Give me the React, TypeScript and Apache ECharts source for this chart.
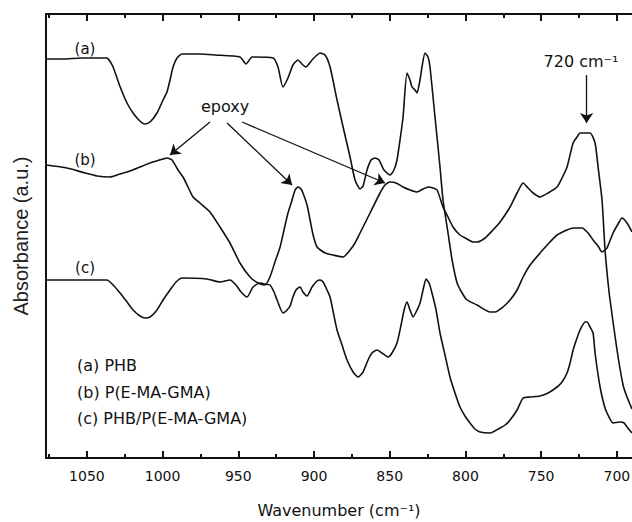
import React, { useEffect, useRef } from "react";
import * as echarts from "echarts";

// Curve (a) PHB
const waveA = [1077,1066,1053,1037,1033,1028,1023.5,1019.5,1015,1011.6,1008.3,1003.7,999.7,997.1,995.1,993.1,990.5,987.2,975.3,965.4,948.9,944.9,940.9,927.1,923.8,920.5,917.2,913.9,910.6,907.3,905.3,901.3,896,892.7,889.4,884.8,880.8,876.2,872.9,869.6,867.6,865,862.3,859.7,857.1,853.8,849.8,847.2,845.2,843.2,841.2,838.6,836.6,835.3,833.3,832,830,828.7,826.7,824.7,823.4,820.1,816.8,814.8,811.5,808.8,805.5,802.2,798.9,792.3,783.7,780.4,775.2,770.5,765.9,761.9,757.3,750.7,745.4,739.5,732.9,728.9,723,719,715.7,712.4,709.8,707.8,706.5,702.5,699.2,696.6,693.3,690];
const absA = [3.99,3.99,4.00,4.00,3.92,3.71,3.55,3.45,3.37,3.34,3.36,3.45,3.58,3.66,3.78,3.91,4.00,4.04,4.04,4.03,4.01,3.94,4.01,4.00,3.91,3.71,3.80,3.93,3.98,3.93,3.91,3.98,4.05,4.03,3.91,3.58,3.31,3.01,2.78,2.69,2.72,2.88,2.98,3.00,2.98,2.88,2.83,2.88,2.98,3.18,3.41,3.85,3.78,3.71,3.68,3.65,3.78,3.91,4.05,4.01,3.91,3.41,2.91,2.58,2.25,1.98,1.75,1.65,1.58,1.53,1.46,1.46,1.51,1.58,1.68,1.81,1.93,2.05,2.14,2.23,2.28,2.30,2.30,2.25,2.18,2.12,2.06,2.08,2.10,2.25,2.34,2.40,2.35,2.26];

// Curve (b) P(E-MA-GMA)
const waveB = [1077,1063.1,1051.2,1043.3,1034.7,1030.1,1021.5,1014.9,1008.3,999.7,997.1,993.8,989.8,986.5,983.2,979.9,975.3,968.7,962.1,955.5,948.9,942.3,937,932.4,929.1,925.8,922.4,919.8,917.2,914.5,912.5,910.6,908.6,907.3,904.6,902.6,900.6,898,892.7,887.4,880.8,876.2,872.9,869.6,863,856.4,853.1,849.8,845.8,841.2,836.6,832,828,824.7,821.4,818.7,814.8,811.5,808.2,803.6,798.9,795,792.3,787,781.8,777.1,770.5,765.9,761.9,758.6,755.3,750.7,745.4,739.5,736.2,732.9,728.9,726.3,724.3,717.7,714.4,712.4,709.8,707.8,705.8,704.5,699.9,695.9,693.3,690];
const absB = [2.93,2.90,2.85,2.82,2.81,2.83,2.87,2.91,2.95,2.99,3.00,2.98,2.88,2.81,2.71,2.61,2.55,2.46,2.31,2.15,1.95,1.81,1.75,1.73,1.81,1.96,2.11,2.28,2.45,2.58,2.68,2.71,2.69,2.65,2.53,2.38,2.23,2.11,2.05,2.03,2.01,2.08,2.15,2.25,2.45,2.65,2.73,2.76,2.75,2.71,2.68,2.66,2.69,2.71,2.70,2.68,2.51,2.41,2.31,2.23,2.19,2.16,2.16,2.20,2.28,2.36,2.51,2.65,2.75,2.70,2.65,2.61,2.65,2.71,2.80,2.91,3.15,3.21,3.25,3.25,3.15,2.91,2.58,2.08,1.75,1.58,1.08,0.73,0.61,0.49];

// Curve (c) PHB/P(E-MA-GMA)
const waveC = [1077,1036.7,1032.7,1028.1,1023.5,1019.5,1014.9,1011.6,1008.3,1003.7,999.7,995.1,991.1,987.2,970.7,962.1,955.5,951.5,948.2,944.2,940.3,935.7,932.4,929.1,926.4,924.4,920.5,917.8,915.8,913.9,911.9,909.2,907.3,904.6,901.3,898,896,894,891.4,889.4,884.8,881.5,878.2,874.2,870.9,867.6,864.3,861.7,858.4,855.1,851.1,848.5,845.2,842.5,840.5,838.6,836.6,834.6,832.6,830,828,826,824,822.1,819.4,816.8,813.5,810.2,806.9,803.6,800.3,797,793.7,790.3,783.7,777.1,773.8,770.5,765.9,761.9,757.3,750.7,745.4,739.5,736.2,732.9,730.9,728.9,726.3,724.3,721,719.7,717.7,715.7,714.4,711.1,708.4,706.5,702.5,697.9,695.2,693.3,690];
const absC = [1.78,1.78,1.73,1.65,1.56,1.48,1.42,1.40,1.41,1.48,1.58,1.68,1.76,1.80,1.79,1.76,1.78,1.73,1.66,1.61,1.71,1.75,1.74,1.73,1.66,1.58,1.45,1.48,1.52,1.61,1.68,1.71,1.66,1.62,1.71,1.77,1.78,1.76,1.68,1.61,1.28,1.13,0.98,0.86,0.81,0.86,0.98,1.05,1.08,1.05,1.01,1.05,1.15,1.33,1.48,1.56,1.48,1.41,1.46,1.55,1.68,1.79,1.75,1.65,1.48,1.25,1.03,0.81,0.65,0.51,0.42,0.35,0.29,0.26,0.25,0.30,0.33,0.38,0.48,0.60,0.61,0.62,0.65,0.71,0.76,0.85,0.95,1.08,1.20,1.28,1.36,1.36,1.31,1.25,1.05,0.71,0.53,0.45,0.35,0.36,0.35,0.31,0.25];

// Axis ticks
const majorTicks = [1050, 1000, 950, 900, 850, 800, 750, 700];
const minorTicks = [1075, 1025, 975, 925, 875, 825, 775, 725];

// Annotation arrows [wavenumber, absorbance]
const arrowStarts = [[968.7, 3.36], [957.4, 3.35], [947.5, 3.36], [720, 3.83]];
const arrowEnds = [[995.1, 3.03], [914.5, 2.73], [853.1, 2.75], [720, 3.35]];

const curveLabels = ["(a)", "(b)", "(c)"];
const legendLines = ["(a) PHB", "(b) P(E-MA-GMA)", "(c) PHB/P(E-MA-GMA)"];

const FONT = "DejaVu Sans";
const INK = "#111";

export default function App() {
  const ref = useRef<HTMLDivElement>(null);
  useEffect(() => {
    if (!ref.current) return;
    const chart = echarts.init(ref.current, null, { renderer: "svg" });
    const X_MIN = 690, X_MAX = 1077;
    const baseX = {
      type: "value",
      min: X_MIN,
      max: X_MAX,
      inverse: true,
      splitLine: { show: false },
    };
    const mk = (w: number[], a: number[]) => w.map((v, i) => [v, a[i]]);
    const lineSeries = (name: string, data: number[][], extra: any = {}) => ({
      type: "line",
      name,
      data,
      xAxisIndex: 0,
      yAxisIndex: 0,
      symbol: "none",
      showSymbol: false,
      smooth: 0.2,
      silent: true,
      lineStyle: { color: INK, width: 1.6 },
      ...extra,
    });
    const labelY = [49, 160, 268];
    const legendY = [365, 392, 418];
    const option: any = {
      animation: false,
      grid: { left: 46, right: 0, top: 14, bottom: 64, containLabel: false, outerBoundsMode: "none" },
      xAxis: [
        {
          ...baseX,
          position: "bottom",
          axisLine: { show: true, onZero: false, lineStyle: { color: INK, width: 2 } },
          axisTick: { show: true, inside: true, length: 7, customValues: majorTicks, lineStyle: { color: INK, width: 2 } },
          axisLabel: {
            show: true,
            customValues: majorTicks,
            formatter: (v: number) => String(v),
            color: INK,
            fontFamily: FONT,
            fontSize: 14,
            margin: 11,
          },
          name: "Wavenumber (cm⁻¹)",
          nameLocation: "middle",
          nameGap: 43,
          nameTextStyle: { color: INK, fontFamily: FONT, fontSize: 16, lineHeight: 18 },
        },
        {
          ...baseX,
          position: "bottom",
          axisLine: { show: false, onZero: false },
          axisTick: { show: true, inside: true, length: 4, customValues: minorTicks, lineStyle: { color: INK, width: 2 } },
          axisLabel: { show: false },
        },
        {
          ...baseX,
          position: "top",
          axisLine: { show: true, onZero: false, lineStyle: { color: INK, width: 2 } },
          axisTick: { show: true, inside: true, length: 7, customValues: majorTicks, lineStyle: { color: INK, width: 2 } },
          axisLabel: { show: false },
        },
        {
          ...baseX,
          position: "top",
          axisLine: { show: false, onZero: false },
          axisTick: { show: true, inside: true, length: 4, customValues: minorTicks, lineStyle: { color: INK, width: 2 } },
          axisLabel: { show: false },
        },
      ],
      yAxis: {
        type: "value",
        min: 0,
        max: 4.44,
        axisLine: { show: true, onZero: false, lineStyle: { color: INK, width: 2 } },
        axisTick: { show: false },
        axisLabel: { show: false },
        splitLine: { show: false },
        name: "Absorbance (a.u.)",
        nameLocation: "middle",
        nameRotate: 90,
        nameGap: 15,
        nameTextStyle: { color: "#222", fontFamily: "Liberation Sans", fontSize: 20 },
      },
      series: [
        lineSeries("(a) PHB", mk(waveA, absA), {
          markLine: {
            silent: true,
            symbol: ["none", "arrow"],
            symbolSize: 10,
            label: { show: false },
            emphasis: { disabled: true },
            lineStyle: { color: INK, width: 1.3, type: "solid" },
            data: arrowStarts.map((s, i) => [{ coord: s }, { coord: arrowEnds[i] }]),
          },
        }),
        lineSeries("(b) P(E-MA-GMA)", mk(waveB, absB)),
        lineSeries("(c) PHB/P(E-MA-GMA)", mk(waveC, absC)),
      ],
      graphic: [
        ...curveLabels.map((t, i) => ({
          type: "text",
          x: 85,
          y: labelY[i],
          silent: true,
          style: { text: t, fill: INK, fontFamily: FONT, fontSize: 15, align: "center", verticalAlign: "middle" },
        })),
        ...legendLines.map((t, i) => ({
          type: "text",
          x: 77,
          y: legendY[i],
          silent: true,
          style: { text: t, fill: INK, fontFamily: FONT, fontSize: 16, align: "left", verticalAlign: "middle" },
        })),
        {
          type: "text",
          x: 225,
          y: 106,
          silent: true,
          style: { text: "epoxy", fill: INK, fontFamily: FONT, fontSize: 16, align: "center", verticalAlign: "middle" },
        },
        {
          type: "text",
          x: 581,
          y: 61,
          silent: true,
          style: { text: "720 cm⁻¹", fill: INK, fontFamily: FONT, fontSize: 16, align: "center", verticalAlign: "middle" },
        },
      ],
    };
    chart.setOption(option);
    return () => chart.dispose();
  }, []);
  return (
    <div
      ref={ref}
      style={{ position: "absolute", left: 0, top: 0, width: 632, height: 522, background: "#fff" }}
    />
  );
}
